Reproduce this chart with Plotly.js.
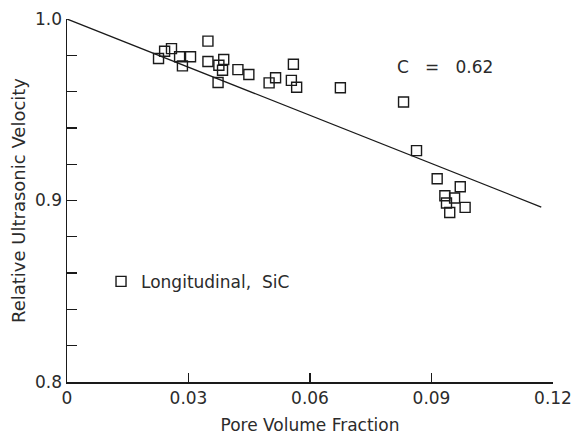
<!DOCTYPE html>
<html>
<head>
<meta charset="utf-8">
<script src="https://cdn.plot.ly/plotly-3.0.1.min.js"></script>
<style>html,body{margin:0;padding:0;background:#fff;}#chart{width:576px;height:439px;}</style>
</head>
<body>
<div id="chart"></div>
<script>
// Measured points: pore volume fraction vs relative ultrasonic velocity
const poreFraction = [0.0226, 0.0241, 0.0258, 0.0278, 0.0305, 0.0285, 0.0348, 0.0348, 0.0375, 0.0387,
  0.0384, 0.0373, 0.0422, 0.0449, 0.0499, 0.0515, 0.0559, 0.0554, 0.0567, 0.0675,
  0.0831, 0.0863, 0.0914, 0.0971, 0.0933, 0.0957, 0.0937, 0.0983, 0.0945];
const relVelocity = [0.9782, 0.9822, 0.9837, 0.9792, 0.9792, 0.9742, 0.9878, 0.9766, 0.9745, 0.9777,
  0.9718, 0.9650, 0.9721, 0.9694, 0.9648, 0.9676, 0.9751, 0.9662, 0.9624, 0.9621,
  0.9543, 0.9275, 0.9120, 0.9076, 0.9026, 0.9014, 0.8986, 0.8962, 0.8934];
// Fitted line (C = 0.62)
const fitX = [0, 0.1171];
const fitY = [1.0, 0.8964];
const xTickVals = [0, 0.03, 0.06, 0.09, 0.12];
const xTickText = ['0', '0.03', '0.06', '0.09', '0.12'];
const yTickVals = [0.8, 0.9, 1.0];
const yTickText = ['0.8', '0.9', '1.0'];

const FONT = 'DejaVu Sans, sans-serif';
const INK = '#1a1a1a';
const TXT = '#2b2b2b';

const traces = [
  {
    x: fitX, y: fitY, mode: 'lines', type: 'scatter', showlegend: false,
    line: {color: INK, width: 1.3}, hoverinfo: 'skip'
  },
  {
    x: poreFraction, y: relVelocity, mode: 'markers', type: 'scatter',
    name: 'Longitudinal,\u00a0 SiC',
    marker: {symbol: 'square-open', size: 10, color: INK, line: {width: 1.4, color: INK}}
  }
];

const layout = {
  width: 576, height: 439,
  margin: {l: 67, r: 23, t: 19, b: 57},
  paper_bgcolor: '#fff', plot_bgcolor: '#fff',
  font: {family: FONT, size: 17, color: TXT},
  showlegend: true,
  legend: {x: 0.07, y: 0.276, xanchor: 'left', yanchor: 'middle', bgcolor: 'rgba(0,0,0,0)',
    font: {family: FONT, size: 17, color: TXT}},
  xaxis: {
    range: [0, 0.12], showgrid: false, zeroline: false,
    showline: true, linecolor: INK, linewidth: 1.5,
    ticks: 'inside', ticklen: 9, tickwidth: 1.3, tickcolor: INK,
    tickmode: 'array', tickvals: xTickVals, ticktext: xTickText,
    tickfont: {family: FONT, size: 17, color: TXT},
    title: {text: 'Pore Volume Fraction', font: {family: FONT, size: 17, color: TXT}, standoff: 12}
  },
  yaxis: {
    range: [0.8, 1.0], showgrid: false, zeroline: false,
    showline: true, linecolor: INK, linewidth: 1.5,
    ticks: 'inside', ticklen: 10, tickwidth: 1.3, tickcolor: INK,
    tickmode: 'array', tickvals: yTickVals, ticktext: yTickText,
    tickfont: {family: FONT, size: 17, color: TXT},
    minor: {ticks: 'inside', ticklen: 10, tickwidth: 1.3, tickcolor: INK, dtick: 0.02, showgrid: false},
    title: {text: 'Relative Ultrasonic Velocity', font: {family: FONT, size: 18, color: TXT}, standoff: 5}
  },
  annotations: [
    {x: 0.0933, y: 0.9738, xref: 'x', yref: 'y', showarrow: false,
     text: 'C\u00a0\u00a0\u00a0=\u00a0\u00a0\u00a00.62', font: {family: FONT, size: 17, color: TXT}}
  ]
};

Plotly.newPlot('chart', traces, layout, {displayModeBar: false, staticPlot: true});
</script>
</body>
</html>
